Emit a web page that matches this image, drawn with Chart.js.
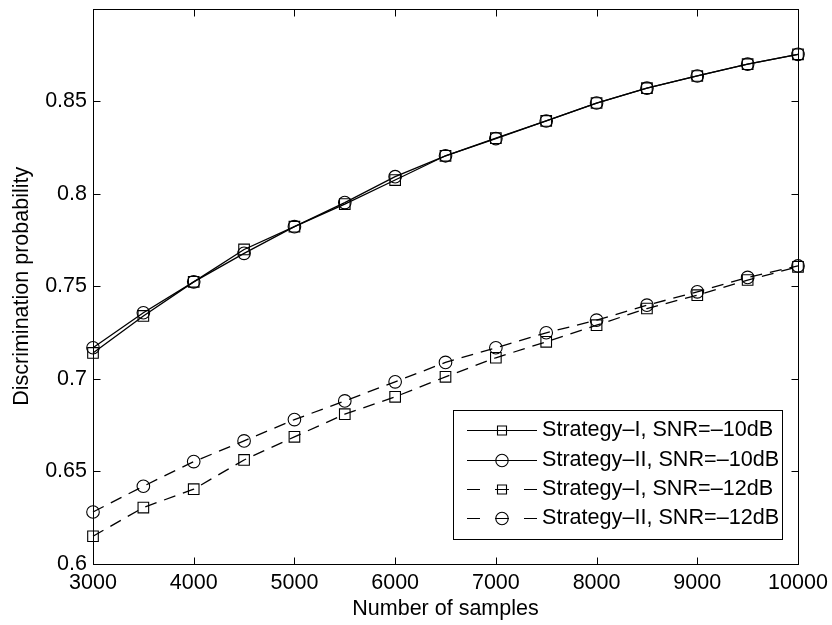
<!DOCTYPE html>
<html><head><meta charset="utf-8">
<script src="https://cdn.jsdelivr.net/npm/chart.js@4"></script>
<style>html,body{margin:0;padding:0;background:#fff;} canvas{display:block;}</style>
</head><body>
<canvas id="c" width="832" height="625"></canvas>
<script>
// ---- data ----
const samples = [3000, 3500, 4000, 4500, 5000, 5500, 6000, 6500, 7000, 7500, 8000, 8500, 9000, 9500, 10000];
const strategyI_10  = [0.714, 0.734, 0.7524, 0.7699, 0.7822, 0.7944, 0.8074, 0.8205, 0.830, 0.8393, 0.849, 0.857, 0.8636, 0.870, 0.8753];
const strategyII_10 = [0.7168, 0.7357, 0.7524, 0.7678, 0.7822, 0.7952, 0.8092, 0.8205, 0.8298, 0.8393, 0.849, 0.857, 0.8636, 0.870, 0.8753];
const strategyI_12  = [0.615, 0.6305, 0.6404, 0.6562, 0.6687, 0.6809, 0.6903, 0.7011, 0.7114, 0.720, 0.729, 0.738, 0.7452, 0.7534, 0.7605];
const strategyII_12 = [0.6281, 0.642, 0.6553, 0.6665, 0.678, 0.6881, 0.6984, 0.7089, 0.7168, 0.7249, 0.7317, 0.7398, 0.747, 0.7548, 0.761];
const seriesLabels = ['Strategy–I, SNR=–10dB', 'Strategy–II, SNR=–10dB', 'Strategy–I, SNR=–12dB', 'Strategy–II, SNR=–12dB'];
const xTicks = [3000, 4000, 5000, 6000, 7000, 8000, 9000, 10000];
const yTicks = [0.6, 0.65, 0.7, 0.75, 0.8, 0.85];
const xTitle = 'Number of samples';
const yTitle = 'Discrimination probability';

// ---- styling ----
const FONT = "'Liberation Sans', Arial, Helvetica, sans-serif";
const FS = 21.5;
const LEGEND_FS = 21.6;
const DASH = [12, 8];
const toPoints = vals => samples.map((x, i) => ({x: x, y: vals[i]}));

function ds(label, vals, style, dashed) {
  return {
    label: label,
    data: toPoints(vals),
    borderColor: '#000',
    borderWidth: 1.3,
    borderDash: dashed ? DASH : [],
    pointStyle: style,
    pointRadius: style === 'rect' ? 7.5 : 6.3,
    pointHoverRadius: style === 'rect' ? 7.5 : 6.3,
    pointBorderWidth: 1.1,
    pointBorderColor: '#000',
    pointBackgroundColor: 'rgba(0,0,0,0)',
    fill: false,
    tension: 0,
    clip: false
  };
}

const framePlugin = {
  id: 'frame',
  afterDatasetsDraw(chart) {
    const ctx = chart.ctx, a = chart.chartArea;
    const xs = chart.scales.x, ys = chart.scales.y;
    ctx.save();
    ctx.strokeStyle = '#000';
    ctx.lineWidth = 1;
    ctx.setLineDash([]);
    const L = Math.round(a.left) + 0.5, R = Math.round(a.right) + 0.5;
    const T = Math.round(a.top) + 0.5, B = Math.round(a.bottom) + 0.5;
    ctx.strokeRect(L, T, R - L, B - T);
    const tl = 7;
    ctx.beginPath();
    xs.ticks.forEach(t => {
      const p = Math.round(xs.getPixelForValue(t.value)) + 0.5;
      ctx.moveTo(p, B); ctx.lineTo(p, B - tl);
      ctx.moveTo(p, T); ctx.lineTo(p, T + tl);
    });
    ys.ticks.forEach(t => {
      const p = Math.round(ys.getPixelForValue(t.value)) + 0.5;
      ctx.moveTo(L, p); ctx.lineTo(L + tl, p);
      ctx.moveTo(R, p); ctx.lineTo(R - tl, p);
    });
    ctx.stroke();
    ctx.restore();
  }
};

const legendPlugin = {
  id: 'boxLegend',
  afterDraw(chart) {
    const ctx = chart.ctx;
    const box = {l: 453.5, t: 410.5, r: 782.5, b: 539.5};
    const rows = [430, 460, 489, 518];
    const x0 = 467, x1 = 537, xm = 502, tx = 542;
    ctx.save();
    ctx.fillStyle = '#fff';
    ctx.fillRect(box.l, box.t, box.r - box.l, box.b - box.t);
    ctx.strokeStyle = '#000';
    ctx.lineWidth = 1;
    ctx.strokeRect(box.l, box.t, box.r - box.l, box.b - box.t);
    chart.data.datasets.forEach((d, i) => {
      const y = rows[i] + 0.5;
      ctx.strokeStyle = '#000';
      ctx.lineWidth = 1.1;
      ctx.beginPath();
      if (d.borderDash && d.borderDash.length) {
        ctx.moveTo(x0, y); ctx.lineTo(x0 + 13, y);
        ctx.moveTo(xm - 7, y); ctx.lineTo(xm + 7, y);
        ctx.moveTo(x1 - 13, y); ctx.lineTo(x1, y);
      } else {
        ctx.moveTo(x0, y); ctx.lineTo(x1, y);
      }
      ctx.stroke();
      ctx.beginPath();
      if (d.pointStyle === 'rect') {
        ctx.rect(xm - 4.5, y - 4.5, 9, 9);
      } else {
        ctx.arc(xm, y, 6.2, 0, Math.PI * 2);
      }
      ctx.stroke();
      ctx.fillStyle = '#000';
      ctx.font = LEGEND_FS + 'px ' + FONT;
      ctx.textAlign = 'left';
      ctx.textBaseline = 'middle';
      ctx.fillText(d.label, tx, rows[i]);
    });
    ctx.restore();
  }
};

new Chart(document.getElementById('c'), {
  type: 'line',
  data: {
    datasets: [
      ds(seriesLabels[0], strategyI_10, 'rect', false),
      ds(seriesLabels[1], strategyII_10, 'circle', false),
      ds(seriesLabels[2], strategyI_12, 'rect', true),
      ds(seriesLabels[3], strategyII_12, 'circle', true)
    ]
  },
  options: {
    responsive: false,
    animation: false,
    devicePixelRatio: 1,
    layout: {padding: {left: 0, top: 8, right: 34, bottom: 0}},
    plugins: {legend: {display: false}, tooltip: {enabled: false}},
    events: [],
    scales: {
      x: {
        type: 'linear',
        min: 3000, max: 10000,
        afterBuildTicks: s => { s.ticks = xTicks.map(v => ({value: v})); },
        afterFit: s => { s.height = 61; s.paddingLeft = 0; s.paddingRight = 0; },
        grid: {display: false, drawTicks: false},
        border: {display: false},
        ticks: {
          color: '#000', padding: 6, maxRotation: 0, autoSkip: false,
          font: {family: FONT, size: FS},
          callback: v => String(v)
        },
        title: {
          display: true, text: xTitle, color: '#000',
          font: {family: FONT, size: FS},
          padding: {top: 0, bottom: 3}
        }
      },
      y: {
        type: 'linear',
        min: 0.6, max: 0.9,
        afterBuildTicks: s => { s.ticks = yTicks.map(v => ({value: v})); },
        afterFit: s => { s.width = 93; s.paddingTop = 0; s.paddingBottom = 0; },
        grid: {display: false, drawTicks: false},
        border: {display: false},
        ticks: {
          color: '#000', padding: 6, autoSkip: false,
          font: {family: FONT, size: FS},
          callback: v => String(v)
        },
        title: {
          display: true, text: yTitle, color: '#000',
          font: {family: FONT, size: FS},
          padding: {top: 9, bottom: 0}
        }
      }
    }
  },
  plugins: [framePlugin, legendPlugin]
});
</script>
</body></html>
